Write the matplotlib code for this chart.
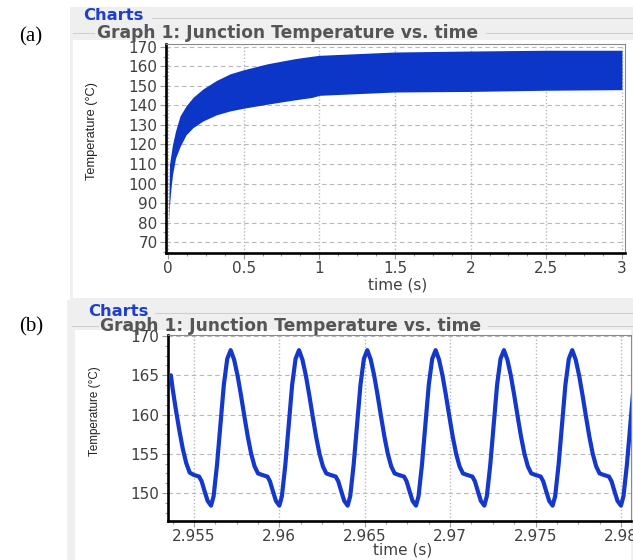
import matplotlib
matplotlib.use("Agg")
import matplotlib.pyplot as plt
from matplotlib.patches import Rectangle
from matplotlib.lines import Line2D
from matplotlib.ticker import MultipleLocator, FixedLocator

W, H = 633, 560

# (a) whole run: upper / lower edge of the oscillating band
env_t = [0.004, 0.01, 0.02, 0.03, 0.05, 0.08, 0.12, 0.165, 0.23, 0.32, 0.41, 0.5,
         0.66, 0.84, 0.95, 1.0, 1.5, 2.0, 2.5, 3.0]
env_hi = [81.0, 109.7, 115.0, 120.0, 126.9, 134.7, 139.8, 144.1, 148.4, 152.8, 156.2, 158.3,
          161.4, 164.0, 165.2, 165.7, 167.4, 167.9, 168.3, 168.3]
env_lo = [80.5, 89.0, 97.6, 104.5, 113.0, 119.0, 125.0, 128.6, 132.0, 135.2, 137.2, 138.6,
          140.7, 142.9, 144.1, 145.2, 146.9, 147.2, 147.8, 148.1]

# (b) zoom on the last cycles
zt = [2.95365, 2.95375, 2.95395, 2.95415, 2.95435, 2.95455, 2.95475, 2.95500, 2.95530, 2.95545, 2.95560, 2.95580,
      2.95600, 2.95615, 2.95635, 2.95655, 2.95675, 2.95695, 2.95715, 2.95735, 2.95755, 2.95775, 2.95795, 2.95815, 2.95835, 2.95855, 2.95875, 2.95900, 2.95930, 2.95945, 2.95960, 2.95980,
      2.96000, 2.96015, 2.96035, 2.96055, 2.96075, 2.96095, 2.96115, 2.96135, 2.96155, 2.96175, 2.96195, 2.96215, 2.96235, 2.96255, 2.96275, 2.96300, 2.96330, 2.96345, 2.96360, 2.96380,
      2.96400, 2.96415, 2.96435, 2.96455, 2.96475, 2.96495, 2.96515, 2.96535, 2.96555, 2.96575, 2.96595, 2.96615, 2.96635, 2.96655, 2.96675, 2.96700, 2.96730, 2.96745, 2.96760, 2.96780,
      2.96800, 2.96815, 2.96835, 2.96855, 2.96875, 2.96895, 2.96915, 2.96935, 2.96955, 2.96975, 2.96995, 2.97015, 2.97035, 2.97055, 2.97075, 2.97100, 2.97130, 2.97145, 2.97160, 2.97180,
      2.97200, 2.97215, 2.97235, 2.97255, 2.97275, 2.97295, 2.97315, 2.97335, 2.97355, 2.97375, 2.97395, 2.97415, 2.97435, 2.97455, 2.97475, 2.97500, 2.97530, 2.97545, 2.97560, 2.97580,
      2.97600, 2.97615, 2.97635, 2.97655, 2.97675, 2.97695, 2.97715, 2.97735, 2.97755, 2.97775, 2.97795, 2.97815, 2.97835, 2.97855, 2.97875, 2.97900, 2.97930, 2.97945, 2.97960, 2.97980,
      2.98000, 2.98015, 2.98035, 2.98055, 2.98075]
zT = [165.0, 163.3, 160.5, 157.9, 155.6, 153.8, 152.6, 152.3, 152.1, 151.5, 150.4, 149.0,
      148.4, 149.6, 153.6, 158.7, 163.8, 167.1, 168.2, 167.0, 165.0, 162.5, 159.8, 157.2, 155.0, 153.4, 152.5, 152.3, 152.1, 151.5, 150.4, 149.0,
      148.4, 149.6, 153.6, 158.7, 163.8, 167.1, 168.2, 167.0, 165.0, 162.5, 159.8, 157.2, 155.0, 153.4, 152.5, 152.3, 152.1, 151.5, 150.4, 149.0,
      148.4, 149.6, 153.6, 158.7, 163.8, 167.1, 168.2, 167.0, 165.0, 162.5, 159.8, 157.2, 155.0, 153.4, 152.5, 152.3, 152.1, 151.5, 150.4, 149.0,
      148.4, 149.6, 153.6, 158.7, 163.8, 167.1, 168.2, 167.0, 165.0, 162.5, 159.8, 157.2, 155.0, 153.4, 152.5, 152.3, 152.1, 151.5, 150.4, 149.0,
      148.4, 149.6, 153.6, 158.7, 163.8, 167.1, 168.2, 167.0, 165.0, 162.5, 159.8, 157.2, 155.0, 153.4, 152.5, 152.3, 152.1, 151.5, 150.4, 149.0,
      148.4, 149.6, 153.6, 158.7, 163.8, 167.1, 168.2, 167.0, 165.0, 162.5, 159.8, 157.2, 155.0, 153.4, 152.5, 152.3, 152.1, 151.5, 150.4, 149.0,
      148.4, 149.6, 153.6, 158.7, 163.8]

a_xticks = [0, 0.5, 1, 1.5, 2, 2.5, 3]
a_xlabels = ["0", "0.5", "1", "1.5", "2", "2.5", "3"]
a_yticks = [70, 80, 90, 100, 110, 120, 130, 140, 150, 160, 170]
b_xticks = [2.955, 2.96, 2.965, 2.97, 2.975, 2.98]
b_xlabels = ["2.955", "2.96", "2.965", "2.97", "2.975", "2.98"]
b_yticks = [150, 155, 160, 165, 170]

title = "Graph 1: Junction Temperature vs. time"
BLUE = '#0b36c8'
TXT = '#404040'

fig = plt.figure(figsize=(W / 100, H / 100), dpi=100)
fig.patch.set_facecolor('white')


def fx(px):
    return px / W


def fy(py):
    return 1 - py / H


def box(x0, y0, x1, y1, color):
    fig.patches.append(Rectangle((fx(x0), fy(y1)), (x1 - x0) / W, (y1 - y0) / H,
                                 transform=fig.transFigure, facecolor=color, edgecolor='none', zorder=-2))


def hline(x0, x1, y, color='#cfcfcf'):
    fig.add_artist(Line2D([fx(x0), fx(x1)], [fy(y), fy(y)], transform=fig.transFigure,
                          color=color, lw=0.8, zorder=-1))


def axes_px(l, t, r, b):
    return fig.add_axes([fx(l), fy(b), (r - l) / W, (b - t) / H])


def style(ax):
    for s in ['left', 'bottom']:
        ax.spines[s].set_linewidth(1.9)
        ax.spines[s].set_color('black')
    for s in ['top', 'right']:
        ax.spines[s].set_linewidth(0.8)
        ax.spines[s].set_color('#8a8a8a')
    ax.tick_params(which='both', direction='out', color='#9a9a9a', labelcolor=TXT, labelsize=11)
    ax.tick_params(which='major', length=4, width=0.8, pad=2)
    ax.tick_params(which='minor', length=2.5, width=0.8)
    ax.grid(axis='y', which='major', ls=(0, (4, 3)), color='#b8b8b8', lw=0.8)
    ax.grid(axis='x', which='major', ls=(0, (1, 1.5)), color='#b8b8b8', lw=1.0)
    ax.set_axisbelow(True)
    ax.set_facecolor('white')


# ---------- window chrome ----------
# panel (a)
box(70, 7, 633, 300, '#efefef')
box(73, 40, 633, 298, 'white')
hline(152, 633, 18)
hline(73, 94, 33)
hline(486, 633, 33)
# panel (b)
box(67, 300, 633, 560, '#efefef')
box(75, 330, 631, 560, 'white')
hline(155, 633, 313)
hline(72, 98, 326)
hline(488, 633, 326)

fig.text(fx(31), fy(37), "(a)", family='Liberation Serif', fontsize=15, ha='center', va='center')
fig.text(fx(31), fy(327), "(b)", family='Liberation Serif', fontsize=15, ha='center', va='center')

fig.text(fx(83), fy(15), "Charts", color='#1d3fcc', fontsize=11.8, fontweight='bold', va='center')
fig.text(fx(97), fy(33), title, color='#555555', fontsize=12.3, fontweight='bold', va='center')
fig.text(fx(88), fy(311), "Charts", color='#1d3fcc', fontsize=11.8, fontweight='bold', va='center')
fig.text(fx(100), fy(326), title, color='#555555', fontsize=12.3, fontweight='bold', va='center')

# ---------- (a) ----------
ax1 = axes_px(166, 44, 625, 253)
style(ax1)
ax1.fill_between(env_t, env_lo, env_hi, color=BLUE, lw=0, zorder=3)
ax1.set_xlim(-0.013, 3.02)
ax1.set_ylim(64.4, 171.5)
ax1.xaxis.set_major_locator(FixedLocator(a_xticks))
ax1.set_xticklabels(a_xlabels)
ax1.xaxis.set_minor_locator(MultipleLocator(0.125))
ax1.yaxis.set_major_locator(FixedLocator(a_yticks))
ax1.yaxis.set_minor_locator(MultipleLocator(5))
fig.text(fx(92), fy(131), "Temperature (°C)", rotation=90, ha='center', va='center',
         family='Liberation Sans', fontsize=9.2, color='#222222')
fig.text(fx(398), fy(285), "time (s)", ha='center', va='center', fontsize=11, color=TXT)

# ---------- (b) ----------
ax2 = axes_px(168, 335, 631, 521)
style(ax2)
ax2.plot(zt, zT, color='#1438cc', lw=3.0, solid_joinstyle='round', solid_capstyle='round', zorder=3)
ax2.set_xlim(2.95348, 2.98059)
ax2.set_ylim(146.44, 170.13)
ax2.xaxis.set_major_locator(FixedLocator(b_xticks))
ax2.set_xticklabels(b_xlabels)
ax2.xaxis.set_minor_locator(MultipleLocator(0.00125))
ax2.yaxis.set_major_locator(FixedLocator(b_yticks))
ax2.yaxis.set_minor_locator(MultipleLocator(1.25))
fig.text(fx(95), fy(411), "Temperature (°C)", rotation=90, ha='center', va='center',
         family='Liberation Sans', fontsize=8.4, color='#222222')
fig.text(fx(403), fy(550), "time (s)", ha='center', va='center', fontsize=11, color=TXT)

fig.savefig("out.png", dpi=100)
